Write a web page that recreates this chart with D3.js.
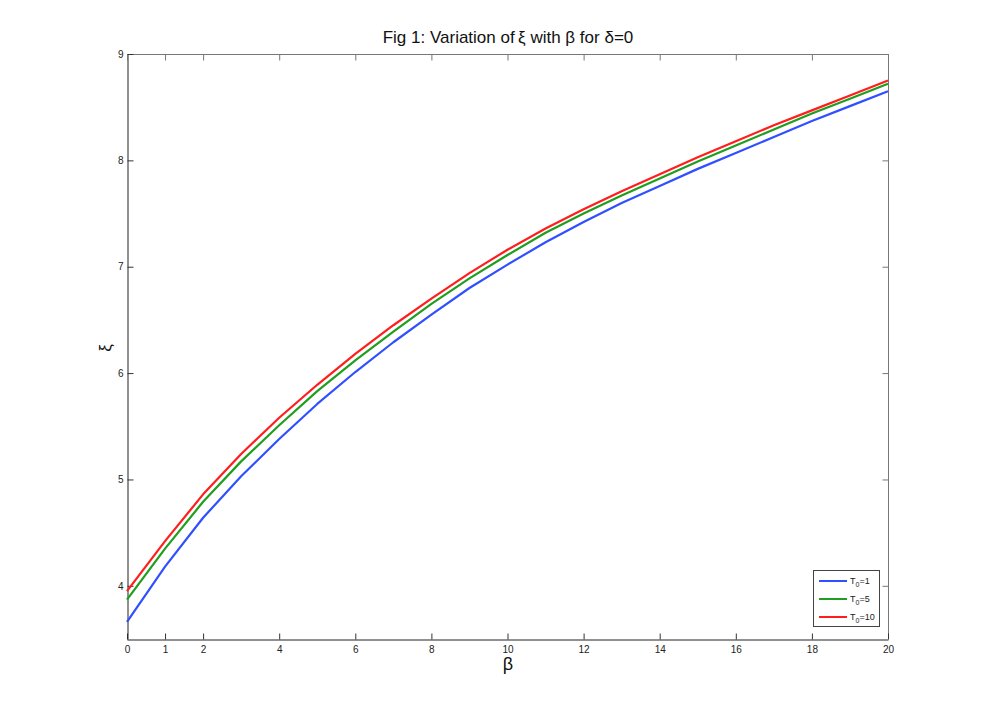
<!DOCTYPE html>
<html><head><meta charset="utf-8">
<script src="https://cdn.jsdelivr.net/npm/d3@7"></script>
<style>body{margin:0;background:#fff}svg{display:block;font-family:"Liberation Sans",Arial,sans-serif}</style>
</head><body><svg id="c" width="981" height="719"></svg>
<script>
const beta = [0,1,2,3,4,5,6,7,8,9,10,11,12,13,14,15,16,17,18,19,20];
const xiT1  = [3.66,4.18,4.64,5.03,5.38,5.71,6.01,6.29,6.55,6.80,7.02,7.23,7.42,7.60,7.76,7.92,8.07,8.22,8.37,8.51,8.65];
const xiT5  = [3.87,4.35,4.79,5.17,5.51,5.83,6.12,6.39,6.65,6.89,7.11,7.32,7.50,7.67,7.83,7.99,8.14,8.29,8.44,8.58,8.72];
const xiT10 = [3.95,4.42,4.86,5.24,5.58,5.89,6.18,6.45,6.70,6.94,7.16,7.36,7.54,7.71,7.87,8.03,8.18,8.33,8.47,8.61,8.75];
const xTicks = [0,1,2,4,6,8,10,12,14,16,18,20];
const yTicks = [4,5,6,7,8,9];
const seriesNames = ["1","5","10"];
const seriesColors = ["#3050ff","#1f9e1f","#ff1e1e"];
const seriesData = [xiT1, xiT5, xiT10];

const svg = d3.select("#c");
const L=127, R=888, T=54, B=639;
const x = d3.scaleLinear().domain([0,20]).range([L,R]);
const y = d3.scaleLinear().domain([3.5,9]).range([B,T]);

// box
svg.append("line").attr("x1",L).attr("x2",R).attr("y1",T+0.5).attr("y2",T+0.5).attr("stroke","#777");
svg.append("line").attr("x1",R+0.5).attr("x2",R+0.5).attr("y1",T).attr("y2",B).attr("stroke","#777");

const tl = 6;
const fmt = d3.format("d");
const gB = svg.append("g").attr("transform",`translate(0,${B+0.5})`)
  .call(d3.axisBottom(x).tickValues(xTicks).tickFormat(fmt).tickSizeInner(-tl).tickSizeOuter(0).tickPadding(6));
const gL = svg.append("g").attr("transform",`translate(${L+0.5},0)`)
  .call(d3.axisLeft(y).tickValues(yTicks).tickFormat(fmt).tickSizeInner(-tl).tickSizeOuter(0).tickPadding(4));
const gT = svg.append("g").attr("transform",`translate(0,${T+0.5})`)
  .call(d3.axisTop(x).tickValues(xTicks).tickSizeInner(-tl).tickSizeOuter(0).tickFormat(""));
const gR = svg.append("g").attr("transform",`translate(${R+0.5},0)`)
  .call(d3.axisRight(y).tickValues(yTicks).tickSizeInner(-tl).tickSizeOuter(0).tickFormat(""));
[gB,gL].forEach(g=>{g.select(".domain").attr("stroke","#222");g.selectAll(".tick line").attr("stroke","#333");
  g.selectAll("text").attr("font-size",10).attr("fill","#222").attr("font-family","Liberation Sans, Arial, sans-serif");});
[gT,gR].forEach(g=>{g.select(".domain").attr("stroke","none");g.selectAll(".tick line").attr("stroke","#777");});

const line = d3.line().x((d,i)=>x(beta[i])).y(d=>y(d));
seriesData.forEach((s,k)=>{
  svg.append("path").datum(s).attr("d",line).attr("fill","none")
    .attr("stroke",seriesColors[k]).attr("stroke-width",2.2).attr("stroke-linejoin","round");
});

// title and labels
svg.append("text").attr("x",508).attr("y",43).attr("text-anchor","middle").attr("font-size",17).attr("fill","#111")
  .text("Fig 1: Variation of\u2009ξ with β for δ=0");
svg.append("text").attr("x",508).attr("y",670).attr("text-anchor","middle").attr("font-size",18).attr("fill","#111").text("β");
svg.append("text").attr("transform","translate(111,348) rotate(-90)").attr("text-anchor","middle").attr("font-size",17).attr("fill","#111").text("ξ");

// legend
const lg = svg.append("g");
lg.append("rect").attr("x",813.5).attr("y",570.5).attr("width",66).attr("height",56).attr("fill","#fff").attr("stroke","#444");
seriesNames.forEach((n,k)=>{
  const yy = 581 + k*18;
  lg.append("line").attr("x1",819).attr("x2",847).attr("y1",yy).attr("y2",yy).attr("stroke",seriesColors[k]).attr("stroke-width",2);
  const t = lg.append("text").attr("x",850).attr("y",yy+3).attr("font-size",9).attr("fill","#222");
  t.append("tspan").text("T");
  t.append("tspan").attr("font-size",7).attr("dy",3).text("0");
  t.append("tspan").attr("dy",-3).text("="+n);
});
</script></body></html>
